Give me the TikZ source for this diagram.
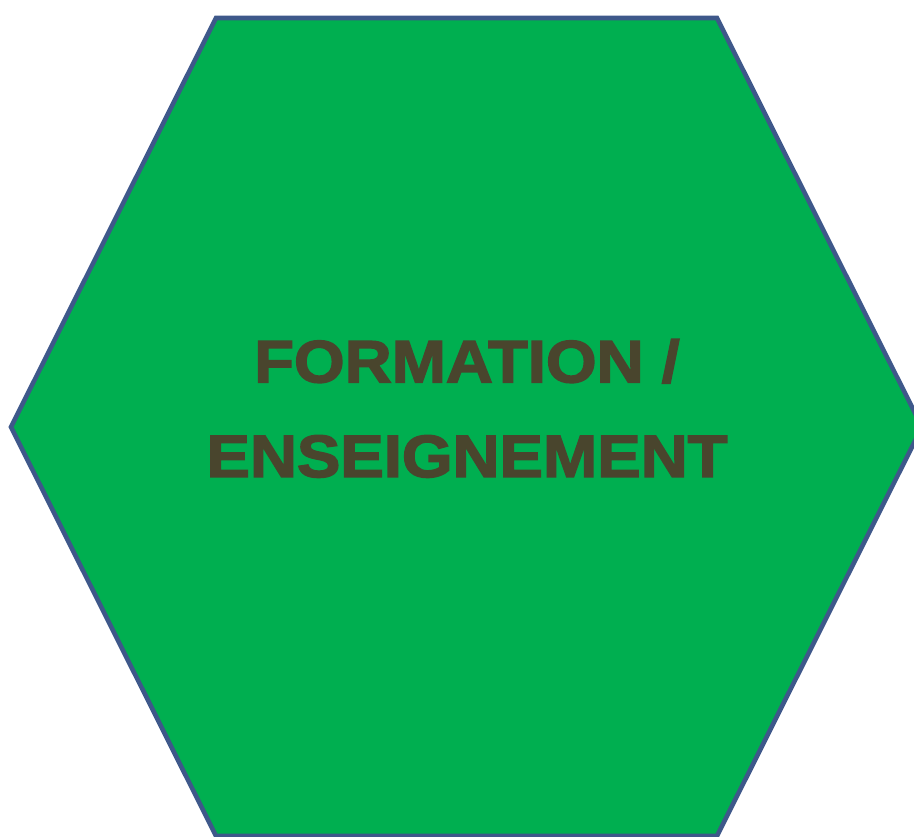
\documentclass[tikz,border=0pt]{standalone}
\usepackage{fontspec}
\usepackage{tikz}
\newfontfamily\hexfont[FakeStretch=1.09,FakeBold=2.5]{Liberation Sans Bold}
\definecolor{hexgreen}{RGB}{0,175,80}
\definecolor{hexborder}{RGB}{62,88,138}
\definecolor{hextext}{RGB}{73,69,45}
\tikzstyle{hexagon}=[draw=hexborder,fill=hexgreen,line width=2.6pt,line join=miter]
\tikzstyle{title}=[text=hextext,align=center,inner sep=0pt,font=\hexfont\fontsize{34}{53.9}\selectfont]

\begin{document}
\begin{tikzpicture}[x=0.02cm,y=-0.02cm]
      \useasboundingbox (0,0) rectangle (914,837);
      \coordinate (tl) at (216,18);
      \coordinate (tr) at (717,18);
      \coordinate (r) at (922,427);
      \coordinate (br) at (717,836);
      \coordinate (bl) at (216,836);
      \coordinate (l) at (11,427);
      \draw[hexagon] (tl) -- (tr) -- (r) -- (br) -- (bl) -- (l) -- cycle;
      \node[title,anchor=base] (label) at (467,477) {FORMATION /\\ENSEIGNEMENT};
    \end{tikzpicture}
\end{document}
